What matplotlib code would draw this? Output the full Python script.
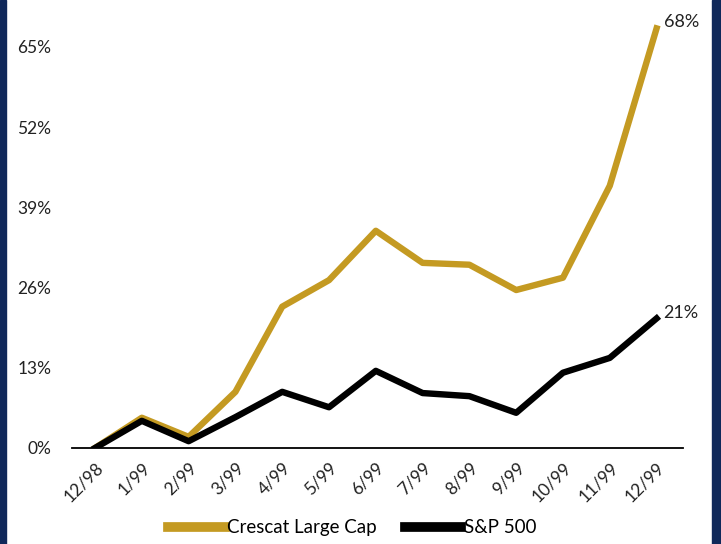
import matplotlib
matplotlib.use("Agg")
import matplotlib.pyplot as plt
from matplotlib.patches import Rectangle

months = ["12/98", "1/99", "2/99", "3/99", "4/99", "5/99", "6/99",
          "7/99", "8/99", "9/99", "10/99", "11/99", "12/99"]
crescat = [0, 4.9, 1.8, 9.1, 22.9, 27.2, 35.2, 30.0, 29.7, 25.6, 27.6, 42.5, 68.0]
sp500 = [0, 4.4, 1.1, 5.0, 9.1, 6.6, 12.5, 8.9, 8.4, 5.7, 12.2, 14.6, 21.0]
yticks = [0, 13, 26, 39, 52, 65]

gold = "#C49A22"
navy = "#10285A"

plt.rcParams["font.family"] = ["Lato", "DejaVu Sans"]

fig = plt.figure(figsize=(7.21, 5.44), dpi=100)
ax = fig.add_axes([0.1, 0.1765, 0.847, 0.794])

x = list(range(len(months)))
ax.plot(x, crescat, color=gold, lw=4.6, label="Crescat Large Cap")
ax.plot(x, sp500, color="black", lw=4.6, label="S&P 500")

ax.annotate(f"{crescat[-1]:.0f}%", (x[-1], crescat[-1]), xytext=(5, 4.5),
            textcoords="offset points", fontsize=13, color="#222222", va="center")
ax.annotate(f"{sp500[-1]:.0f}%", (x[-1], sp500[-1]), xytext=(5, 3.6),
            textcoords="offset points", fontsize=13, color="#222222", va="center")

ax.set_xlim(-0.49, 12.56)
ax.set_ylim(0, 70)
ax.set_yticks(yticks)
ax.set_yticklabels([f"{v}%" for v in yticks], fontsize=12.5, color="#222222")
ax.set_xticks(x)
ax.set_xticklabels(months, rotation=45, ha="right", rotation_mode="anchor",
                   fontsize=12.5, color="#222222")
ax.tick_params(length=0, pad=8)
ax.tick_params(axis="y", pad=15)
for s in ["top", "right", "left"]:
    ax.spines[s].set_visible(False)
ax.spines["bottom"].set_linewidth(1.3)

leg = fig.legend(loc="lower center", bbox_to_anchor=(0.489, -0.017), ncol=2,
                 frameon=False, fontsize=13.5, handlelength=3.0, handletextpad=0.15,
                 columnspacing=1.5)
for line in leg.get_lines():
    line.set_linewidth(7)

fig.patches.append(Rectangle((0, 0), 0.009, 1, transform=fig.transFigure, color=navy))
fig.patches.append(Rectangle((0.988, 0), 0.012, 1, transform=fig.transFigure, color=navy))

fig.savefig("out.png", dpi=100)
